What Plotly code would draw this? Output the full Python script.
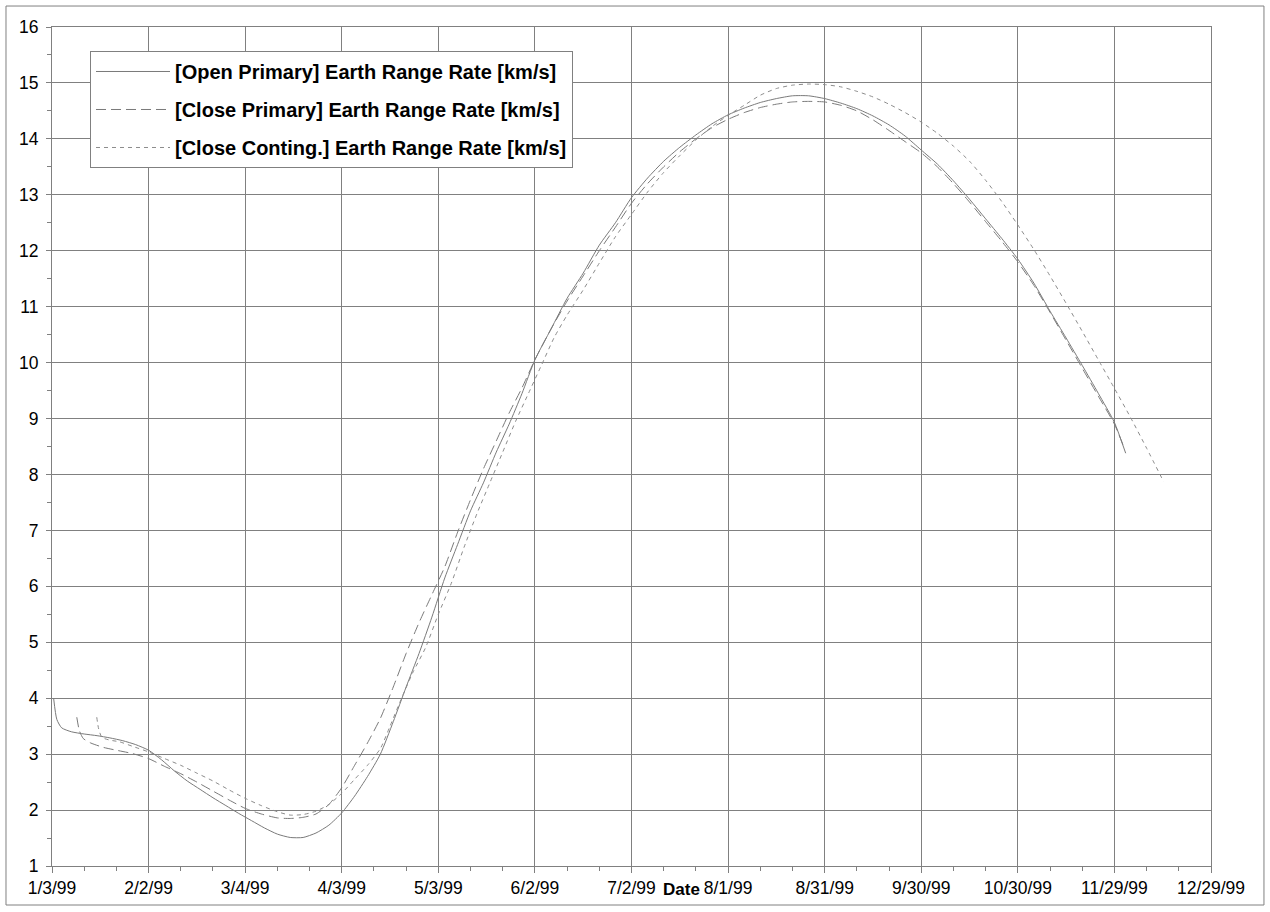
import numpy as np
import plotly.graph_objects as go

# Day offsets from 1/3/99 and range-rate values [km/s]
START = np.datetime64("1999-01-03")

open_primary_days = [0.5, 1.5, 3, 6, 10, 14, 18, 22, 26, 30, 34, 38, 42, 46, 50, 54, 58, 62, 66, 70,
                     74, 78, 82, 86, 90, 94, 98, 102, 106, 110, 114, 118, 122, 126, 130, 134, 138,
                     142, 146, 150, 155, 160, 165, 170, 175, 180, 185, 190, 195, 200, 205, 210, 215,
                     220, 225, 230, 235, 240, 245, 250, 255, 260, 265, 270, 275, 280, 285, 290, 295,
                     300, 305, 310, 315, 320, 325, 330, 333.5]
open_primary_rate = [4.0, 3.62, 3.47, 3.40, 3.36, 3.33, 3.29, 3.24, 3.17, 3.07, 2.90, 2.70, 2.52, 2.37,
                     2.22, 2.08, 1.94, 1.81, 1.68, 1.57, 1.51, 1.51, 1.59, 1.73, 1.95, 2.25, 2.60, 3.0,
                     3.58, 4.2, 4.8, 5.45, 6.15, 6.75, 7.35, 7.85, 8.4, 8.9, 9.45, 10.05, 10.6, 11.15,
                     11.6, 12.1, 12.5, 12.95, 13.3, 13.6, 13.85, 14.07, 14.27, 14.43, 14.55, 14.65,
                     14.72, 14.77, 14.77, 14.72, 14.64, 14.54, 14.41, 14.25, 14.05, 13.8, 13.55, 13.25,
                     12.92, 12.57, 12.22, 11.85, 11.42, 10.92, 10.44, 9.95, 9.45, 8.93, 8.38]

close_primary_days = [7.7, 8.5, 9.7, 12, 16, 20, 25, 30, 35, 40, 45, 50, 55, 60, 65, 70, 74, 78, 82,
                      86, 90, 94, 98, 102, 106, 110, 114, 118, 122, 126, 130, 134, 138, 142, 146, 150,
                      155, 160, 165, 170, 175, 180, 185, 190, 195, 200, 205, 210, 215, 220, 225, 230,
                      235, 240, 245, 250, 255, 260, 265, 270, 275, 280, 285, 290, 295, 300, 305, 310,
                      315, 320, 325, 330, 333.2]
close_primary_rate = [3.66, 3.42, 3.28, 3.20, 3.12, 3.07, 3.01, 2.92, 2.78, 2.65, 2.5, 2.34, 2.18, 2.03,
                      1.93, 1.86, 1.85, 1.87, 1.93, 2.1, 2.4, 2.8, 3.2, 3.64, 4.2, 4.8, 5.35, 5.85, 6.35,
                      6.97, 7.55, 8.1, 8.6, 9.1, 9.55, 10.05, 10.6, 11.1, 11.55, 12.0, 12.42, 12.85, 13.2,
                      13.5, 13.77, 14.0, 14.2, 14.35, 14.47, 14.56, 14.62, 14.66, 14.67, 14.66, 14.6,
                      14.5, 14.34, 14.15, 13.95, 13.75, 13.5, 13.2, 12.87, 12.52, 12.17, 11.8, 11.38,
                      10.9, 10.4, 9.9, 9.4, 8.9, 8.45]

close_conting_days = [13.9, 14.5, 15.5, 18, 21, 25, 30, 35, 40, 45, 50, 55, 60, 65, 70, 74, 78, 82, 86,
                      90, 94, 98, 102, 105, 108, 112, 116, 120, 124, 128, 132, 136, 140, 144, 148, 152,
                      156, 160, 165, 170, 175, 180, 185, 190, 195, 200, 205, 210, 215, 220, 225, 230,
                      235, 240, 245, 250, 255, 260, 265, 270, 275, 280, 285, 290, 295, 300, 305, 310,
                      315, 320, 325, 330, 335, 340, 345.3]
close_conting_rate = [3.66, 3.45, 3.30, 3.25, 3.22, 3.14, 3.04, 2.92, 2.80, 2.66, 2.52, 2.36, 2.21, 2.08,
                      1.97, 1.91, 1.92, 1.98, 2.1, 2.3, 2.55, 2.8, 3.1, 3.5, 3.92, 4.45, 4.9, 5.5, 6.05,
                      6.7, 7.3, 7.85, 8.4, 8.95, 9.45, 9.95, 10.45, 10.85, 11.3, 11.78, 12.25, 12.65,
                      13.05, 13.4, 13.7, 13.98, 14.22, 14.42, 14.6, 14.78, 14.9, 14.96, 14.98, 14.97,
                      14.93, 14.85, 14.75, 14.62, 14.47, 14.3, 14.1, 13.87, 13.6, 13.26, 12.88, 12.46,
                      12.02, 11.55, 11.06, 10.56, 10.05, 9.54, 9.02, 8.47, 7.87]

series_names = [
    "[Open Primary] Earth Range Rate [km/s]",
    "[Close Primary] Earth Range Rate [km/s]",
    "[Close Conting.] Earth Range Rate [km/s]",
]


def to_dates(days):
    minutes = np.round(np.asarray(days) * 1440).astype("int64")
    return START + minutes.astype("timedelta64[m]")


GRAY = "#808080"
FONT = "Liberation Sans, Arial, Helvetica, sans-serif"
DAY_MS = 86400000

fig = go.Figure()
styles = [
    dict(color="#7a7a7a", width=1, dash="solid"),
    dict(color="#7a7a7a", width=1, dash="10px,5px"),
    dict(color="#8c8c8c", width=1, dash="4px,4px"),
]
data = [
    (open_primary_days, open_primary_rate),
    (close_primary_days, close_primary_rate),
    (close_conting_days, close_conting_rate),
]
for i, ((d, v), name, st) in enumerate(zip(data, series_names, styles)):
    fig.add_trace(go.Scatter(
        x=to_dates(d), y=v, mode="lines", name=name, legendgroup=f"g{i}",
        line=dict(shape="spline", smoothing=0.6, **st),
        hoverinfo="x+y",
    ))

fig.update_layout(
    width=1270, height=912,
    margin=dict(l=52, r=59, t=27, b=46),
    paper_bgcolor="white", plot_bgcolor="white",
    font=dict(family=FONT, size=17, color="black"),
    legend=dict(
        x=0.0328, y=0.9714, xanchor="left", yanchor="top",
        bgcolor="white", bordercolor=GRAY, borderwidth=1,
        font=dict(family=FONT, size=20, color="black", weight="bold"),
        tracegroupgap=9, itemwidth=74,
    ),
    showlegend=True,
)

fig.update_xaxes(
    type="date",
    range=["1999-01-03", "1999-12-29"],
    tick0="1999-01-03", dtick=30 * DAY_MS,
    tickformat="%-m/%-d/%y",
    showgrid=True, gridcolor=GRAY, gridwidth=1,
    showline=True, linecolor=GRAY, linewidth=1, mirror=True,
    ticks="outside", ticklen=6, tickcolor=GRAY,
    minor=dict(tick0="1999-01-03", dtick=10 * DAY_MS, ticks="outside", ticklen=4,
               tickcolor=GRAY, showgrid=False),
    tickfont=dict(family=FONT, size=17.5, color="black"),
    zeroline=False,
)
fig.update_yaxes(
    range=[1, 16], dtick=1, tick0=1,
    showgrid=True, gridcolor=GRAY, gridwidth=1,
    showline=True, linecolor=GRAY, linewidth=1, mirror=True,
    ticks="outside", ticklen=5, tickcolor=GRAY,
    minor=dict(dtick=0.5, ticks="outside", ticklen=4, tickcolor=GRAY, showgrid=False),
    tickfont=dict(family=FONT, size=17.5, color="black"),
    ticklabelstandoff=4,
    zeroline=False,
)

# Axis title placed just right of centre, below the tick labels
fig.add_annotation(
    text="<b>Date</b>", xref="paper", yref="paper", x=0.543, y=-0.0286,
    xanchor="center", yanchor="middle", showarrow=False,
    font=dict(family=FONT, size=17, color="black"),
)

# Chart-area frame
fig.add_shape(
    type="rect", xref="paper", yref="paper",
    x0=-0.0397, x1=1.0457, y0=-0.0465, y1=1.025,
    line=dict(color=GRAY, width=1), fillcolor="rgba(0,0,0,0)", layer="below",
)

fig.write_html("out.html")
